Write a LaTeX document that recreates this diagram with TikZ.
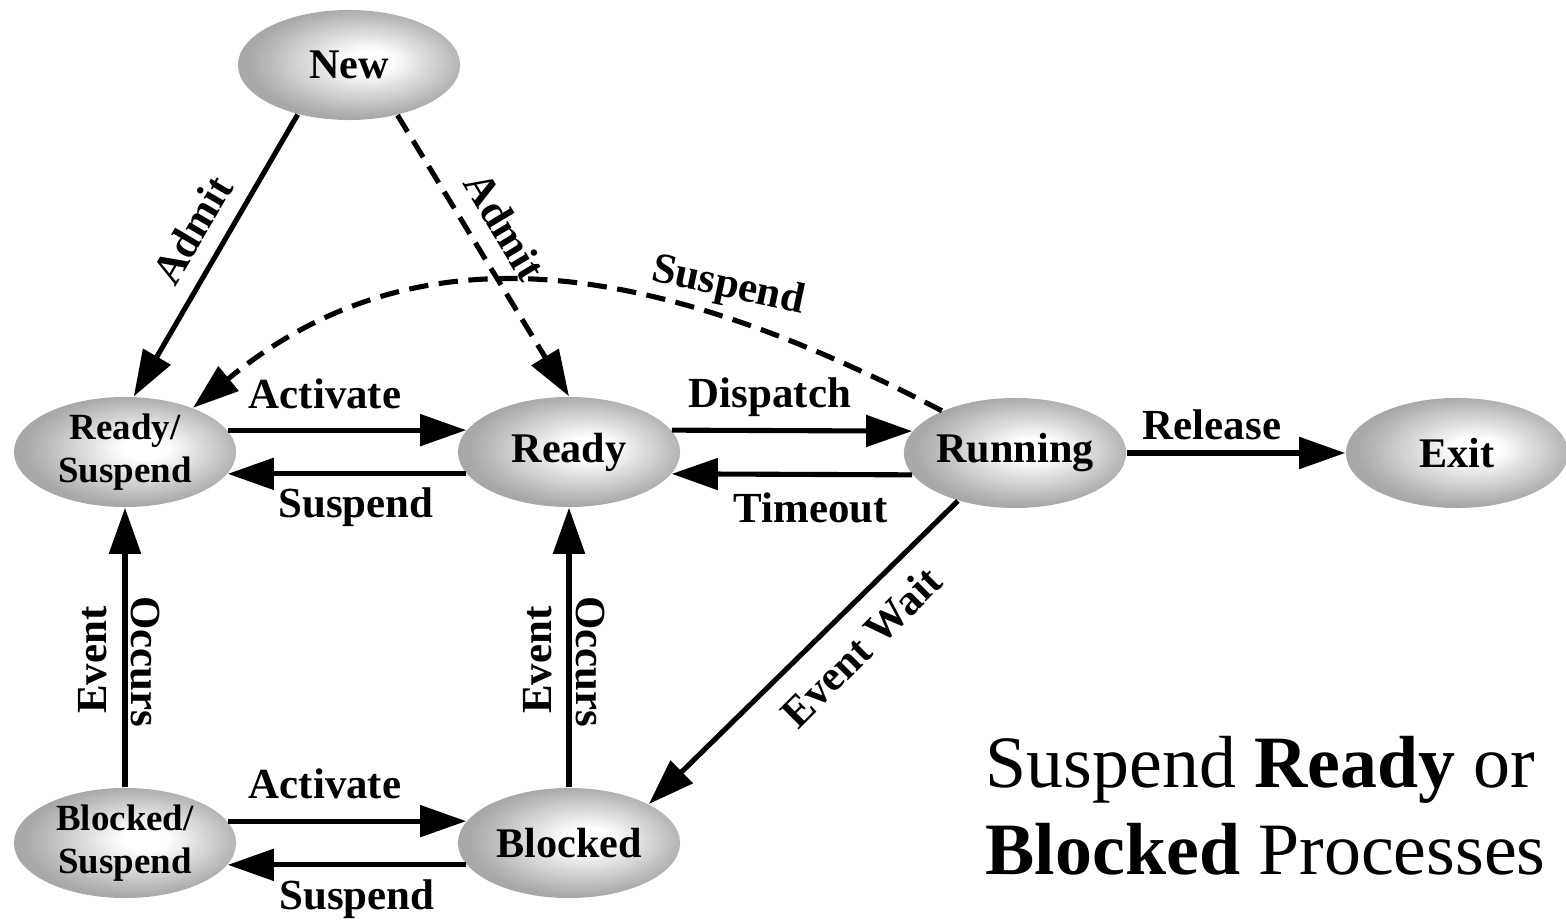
\documentclass[tikz,border=0pt]{standalone}
\usepackage{fontspec}
\setmainfont{Liberation Serif}
\usetikzlibrary{arrows.meta,shapes.geometric}
\pgfdeclareradialshading{ellshade}{\pgfpoint{5bp}{2bp}}{color(0bp)=(white); color(5bp)=(white); color(25bp)=(black!34); color(50bp)=(black!34)}
\begin{document}
\begin{tikzpicture}[x=0.01cm,y=-0.01cm,
  state/.style={ellipse, shading=ellshade, minimum width=2.22cm, minimum height=1.1cm, inner sep=0pt, align=center, font=\bfseries\fontsize{12}{14}\selectfont},
  small/.style={font=\bfseries\fontsize{10.5}{12.2}\selectfont},
  arr/.style={-{Triangle[length=4.6mm,width=3.1mm]}, line width=1.45pt},
  dsh/.style={dash pattern=on 5.5pt off 3pt},
  lbl/.style={font=\bfseries\fontsize{12.2}{14}\selectfont, inner sep=0pt},
  big/.style={font=\fontsize{21}{24.8}\selectfont, inner sep=0pt, anchor=base west}]
\useasboundingbox (0,0) rectangle (1566,922);
% states
\node[state] (New) at (349,65) {New};
\node[state, small] (RS) at (125,452) {Ready/\\Suspend};
\node[state] (Ready) at (569,452) {Ready};
\node[state] (Run) at (1015,453) {Running};
\node[state] (Exit) at (1457,453) {Exit};
\node[state, small] (BS) at (125,843) {Blocked/\\Suspend};
\node[state] (Blk) at (569,843) {Blocked};
% transitions
\draw[arr] (New.-136) -- (RS.81);
\draw[arr,dsh] (New.-46) -- (Ready.north);
\draw[arr] (RS.12) -- (Ready.168);
\draw[arr] (Ready.-168) -- (RS.-12);
\draw[arr] (Ready.12) -- (Run.168);
\draw[arr] (Run.-168) -- (Ready.-12);
\draw[arr] (Run) -- (Exit);
\draw[arr,dsh] (Run.150) .. controls (684,277) and (433,210) .. (RS.33);
\draw[arr] (Run.220) -- (Blk.26);
\draw[arr] (BS) -- (RS);
\draw[arr] (Blk) -- (Ready);
\draw[arr] (BS.12) -- (Blk.168);
\draw[arr] (Blk.-168) -- (BS.-12);
% labels
\node[lbl, rotate=59.5] (lAdmitA) at (192,230) {Admit};
\node[lbl, rotate=-59] (lAdmitB) at (505,226) {Admit};
\node[lbl, anchor=base] (lAct1) at (325,409) {Activate};
\node[lbl, anchor=base] (lSus1) at (356,518) {Suspend};
\node[lbl, anchor=base] (lDisp) at (770,408) {Dispatch};
\node[lbl, anchor=base] (lTime) at (811,523) {Timeout};
\node[lbl, anchor=base] (lRel) at (1212,440) {Release};
\node[lbl, rotate=-12] (lSus2) at (728,287) {Suspend};
\node[lbl, rotate=45] (lEW) at (861,647) {Event Wait};
\node[lbl, rotate=90] (lEv1) at (93,660) {Event};
\node[lbl, rotate=-90] (lOc1) at (145,662) {Occurs};
\node[lbl, rotate=90] (lEv2) at (538,660) {Event};
\node[lbl, rotate=-90] (lOc2) at (590,662) {Occurs};
\node[lbl, anchor=base] (lAct2) at (325,799) {Activate};
\node[lbl, anchor=base] (lSus3) at (357,910) {Suspend};
% caption
\node[big] (cap1) at (985,788) {Suspend \textbf{Ready} or};
\node[big] (cap2) at (985,875) {\textbf{Blocked} Processes};
\end{tikzpicture}
\end{document}
